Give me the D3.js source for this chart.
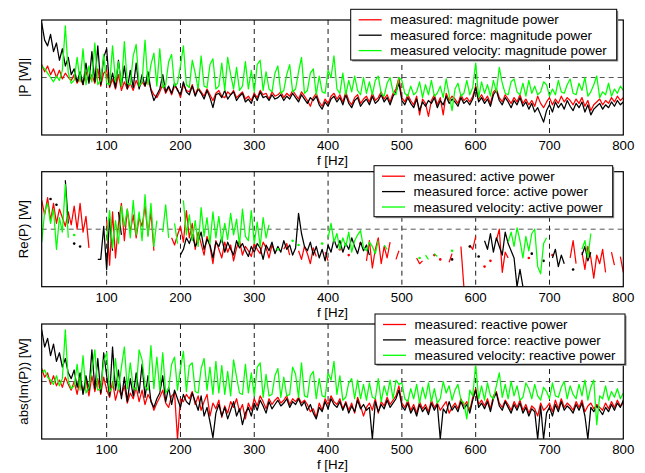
<!DOCTYPE html>
<html>
<head>
<meta charset="utf-8">
<script src="https://cdn.jsdelivr.net/npm/d3@7"></script>
<style>
  body { margin: 0; background: #fff; }
  svg { display: block; font-family: "Liberation Sans", Arial, Helvetica, sans-serif; }
</style>
</head>
<body>
<script>
// spectra sampled every 4 Hz from 12 Hz to 800 Hz, levels in dB (grid line at 0 dB)
const freqs = d3.range(12, 801, 4);
const xTicks = [100, 200, 300, 400, 500, 600, 700, 800];
const gridLevels = [0];

// |P|
const magRed = [
  9, 4, 8, 2, 6, 0, 5, -1, 3, 0,
  -2, 2, -4, 0, -5, 4, -3, 2, -4, 6,
  -6, 3, 5, -7, -1, -8, 2, -9, -3, -8,
  -4, -9, -2, -7, -3, -6, -1, -8, -12, -14,
  -10, -5, -11, -7, -12, -6, -8, -14, -5, -9,
  -10, -5, -12, -7, -10, -13, -8, -12, -16, -11,
  -9, -13, -14, -10, -12, -9, -14, -12, -10, -15,
  -13, -16, -11, -14, -9, -12, -11, -15, -10, -13,
  -12, -10, -14, -11, -13, -9, -12, -15, -10, -13,
  -16, -20, -14, -11, -17, -20, -15, -18, -13, -11,
  -15, -12, -17, -10, -16, -19, -14, -12, -18, -15,
  -13, -17, -11, -16, -14, -10, -15, -12, -17, -11,
  -8, 0, -14, -17, -12, -16, -19, -13, -26, -15,
  -18, -27, -16, -12, -19, -14, -26, -11, -16, -13,
  -15, -18, -12, -16, -14, -17, -13, -6, -15, -12,
  -16, -13, -18, -10, -8, -14, -17, -12, -15, -18,
  -14, -17, -12, -18, -15, -19, -16, -20, -13, -18,
  -21, -17, -14, -19, -15, -18, -13, -17, -14, -16,
  -19, -15, -18, -14, -20, -16, -23, -19, -17, -15,
  -19, -16, -18, -14, -17, -13, -16, -14
];
const magBlack = [
  38, 26, 22, 30, 18, 24, 12, 20, 8, 14,
  2, 6, -3, 4, -5, 10, -4, 18, -3, 22,
  -5, 14, 20, -6, 3, -7, 12, -6, 8, -8,
  5, -7, 10, -8, 2, -6, 4, -9, -16, -12,
  -8, 2, -10, -6, -11, -4, -9, -12, -3, -10,
  -12, -6, -13, -8, -11, -15, -9, -14, -21, -12,
  -11, -14, -9, -15, -12, -10, -16, -13, -11, -17,
  -15, -18, -12, -16, -10, -14, -13, -16, -12, -15,
  -14, -12, -16, -13, -15, -11, -14, -17, -12, -15,
  -18, -14, -16, -13, -19, -22, -17, -20, -15, -13,
  -17, -14, -19, -12, -18, -21, -16, -14, -20, -17,
  -15, -19, -13, -18, -16, -12, -17, -14, -19, -13,
  -10, -4, -16, -19, -14, -18, -21, -15, -23, -17,
  -20, -16, -18, -14, -21, -16, -19, -13, -18, -15,
  -17, -20, -14, -18, -16, -19, -15, -7, -17, -14,
  -18, -15, -20, -12, -9, -16, -19, -14, -17, -21,
  -16, -19, -14, -20, -17, -22, -18, -24, -21, -26,
  -31, -23, -19, -24, -17, -21, -18, -22, -16, -20,
  -23, -18, -21, -17, -24, -19, -26, -22, -20, -18,
  -22, -19, -21, -17, -20, -16, -19, -17
];
const magGreen = [
  8, 6, 3, 0, -3, 1, -2, 5, 36, 3,
  -4, -2, 14, -3, 20, -5, 8, -3, 24, -5,
  -2, 16, -4, -5, 22, -3, 11, -6, 25, -4,
  -5, 15, 23, -6, -3, 26, -5, 9, 17, -6,
  20, -7, -5, 11, 16, -6, -4, 8, 22, -5,
  -7, 12, 3, -8, 15, -6, -7, 9, 13, -8,
  -6, 10, -9, 14, 2, -8, 7, -9, -6, 11,
  -8, 5, -10, 9, 12, -9, 4, -8, -10, 3,
  8, -11, -9, 2, 9, -10, -8, 4, 14, -11,
  -9, 3, 6, -12, 1, -10, -11, 5, 0, 15,
  -8, -11, 3, -12, -2, -10, 1, -9, -12, 0,
  -11, -3, -12, -2, 1, -11, -13, -4, 0, -10,
  -12, 0, -2, -11, -13, -6, -12, -10, -3, -14,
  -5, -12, -2, -13, -11, -6, -14, -1, -12, -23,
  -8, -4, -13, -11, -2, -12, -7, 10, -14, -3,
  -11, -5, -13, -2, -10, 7, -4, -11, -12, -3,
  -1, -10, -12, -4, -13, -2, -11, -6, -12, -10,
  -3, -5, -13, -8, -12, -2, -10, -11, -5, -1,
  -11, -12, -4, -9, 0, -13, -10, -5, 1, -14,
  -10, -12, -4, -13, -8, -11, -6, -9
];

// Re(P): null where the active power is negative (not shown on the log axis)
const reRed = [
  20, 10, 22, 6, 18, 4, 14, 8, 2, 12,
  3, 16, 0, 18, -2, 9, -13, null, null, null,
  null, null, 6, -25, 12, -20, 4, 18, -8, 14,
  -2, 10, -6, 8, 2, 16, -4, 12, -15, null,
  null, null, null, null, -6, -11, -4, 2, -9, 13,
  -6, 4, -14, -2, -10, -18, -5, -12, -24, -8,
  -14, -20, -9, -16, -11, -22, -13, -8, -18, -12,
  -15, -19, -10, -14, -17, -9, -13, -20, -11, -16,
  null, null, -14, -10, -18, null, null, -15, -21, -12,
  -17, -24, -13, -19, null, null, -16, -22, null, null,
  null, -14, null, null, -18, null, null, null, -10, null,
  -22, -8, -27, -14, -6, -24, -12, -20, -9, null,
  -21, -15, null, null, null, null, null, -20, -24, -22,
  null, null, null, -18, null, -21, null, null, -23, -17,
  null, null, -12, -40, null, -11, -14, -5, null, null,
  -26, null, -22, null, -8, 0, -30, -16, -20, null,
  null, null, null, null, null, -20, null, null, null, null,
  null, null, null, -18, null, null, null, null, null, -20,
  -8, -24, null, -16, -28, -12, -20, -34, -18, -24,
  -14, -30, null, -16, -25, null, -19, -30
];
const reBlack = [
  null, null, null, 21, null, 17, null, null, 34, 4,
  null, -10, null, -12, null, null, null, null, null, -21,
  -21, 2, -28, 8, -15, null, 12, -4, null, null,
  null, null, null, null, null, null, null, null, null, null,
  null, null, null, null, null, null, null, -18, -14, -6,
  -10, -4, -12, -8, -2, -14, -7, -11, -20, -9,
  -12, -6, -16, -9, -14, -18, -8, -13, -10, -15,
  -19, -12, -16, -10, -13, -21, -11, -15, -9, -17,
  -12, -16, -8, -14, -11, -18, -13, 11, -3, -12,
  -15, -9, -18, -12, -20, -14, -22, -11, -16, -7,
  -13, -8, -16, -10, -14, -6, -12, -17, -9, -15,
  -11, -18, null, null, null, null, null, null, null, null,
  null, null, null, null, null, null, null, null, null, null,
  null, null, null, null, null, null, null, null, null, -21,
  null, null, null, null, null, -12, null, null, -19, null,
  -8, -14, -3, -16, -6, -12, -18, -2, -10, -15,
  -20, -40, -28, -40, null, null, -17, null, null, null,
  -22, null, null, -20, -14, -26, -18, -24, null, null,
  -28, null, null, -18, -12, -22, -16, null, null, null,
  null, null, null, null, null, null, null, null
];
const reGreen = [
  -9, 12, 18, 4, 14, -14, 8, -2, 31, -6,
  null, -4, null, null, null, null, null, null, null, null,
  null, null, -8, 13, -13, 6, -10, 16, 2, 14,
  -6, 20, -4, 12, -8, 24, -5, 18, -12, 6,
  null, -2, 17, -6, null, 4, -10, null, 20, -4,
  10, -8, 6, -12, 15, -5, 8, -10, 12, -6,
  9, -9, 4, -7, 11, -4, 7, -11, 14, -5,
  -8, 13, -10, 5, -12, 8, -6, 3, null, null,
  -14, null, null, null, null, -8, null, -11, null, null,
  null, null, null, null, null, -10, null, -6, 4, -9,
  -3, -14, -6, -12, -2, -16, -8, -4, -1, -13,
  -15, -9, -12, -17, -8, null, -11, -14, null, null,
  null, null, null, null, null, null, null, null, -20, null,
  -18, -21, null, -17, -19, null, null, null, null, -15,
  null, null, null, null, null, null, null, null, null, null,
  null, null, null, null, null, null, null, null, -9, -2,
  -12, 1, -8, -20, -5, -15, -3, 0, -26, -31,
  -10, -6, null, null, null, null, null, null, null, null,
  null, null, null, -14, -8, -20, -3, null, null, null,
  null, null, null, null, null, null, null, null
];

// |Im(P)|
const imRed = [
  9, 3, 6, -2, 4, -3, 1, -4, 3, -2,
  -6, 0, -9, 2, -8, 1, -10, 4, -7, 2,
  -9, 3, -6, -11, 0, -13, -5, -10, -3, -15,
  -8, -12, -4, -14, -6, -16, -9, -13, -20, -15,
  -11, -6, -15, -18, -10, -8, -40, -12, -14, -9,
  -12, -7, -16, -10, -20, -14, -9, -24, -15, -19,
  -13, -25, -17, -22, -14, -18, -12, -21, -16, -26,
  -15, -20, -12, -17, -10, -14, -19, -12, -16, -13,
  -11, -15, -13, -10, -16, -12, -14, -11, -15, -13,
  -16, -21, -19, -25, -15, -20, -12, -16, -10, -14,
  -16, -12, -19, -14, -20, -15, -22, -11, -17, -24,
  -18, -15, -20, -12, -22, -14, -17, -11, -16, -13,
  -10, -3, -15, -18, -13, -20, -16, -22, -14, -19,
  -16, -21, -13, -18, -15, -20, -17, -14, -22, -18,
  -15, -19, -12, -17, -14, -20, -11, -5, -16, -13,
  -17, -12, -19, -10, -7, -15, -18, -13, -16, -20,
  -14, -18, -13, -20, -16, -22, -17, -19, -24, -15,
  -20, -18, -15, -21, -13, -19, -12, -18, -15, -17,
  -20, -14, -18, -13, -21, -17, -15, -19, -16, -18,
  -20, -15, -19, -14, -18, -13, -17, -15
];
const imBlack = [
  36, 24, 30, 18, 26, 14, 20, 10, 16, 6,
  2, 8, -4, 6, -9, 4, -6, 22, -5, 16,
  -8, 20, 4, -10, 24, -6, 8, -12, 3, -14,
  2, -10, 6, -8, 12, -11, 4, -14, -18, -12,
  -8, 4, -14, -4, -16, -6, -12, -18, -9, -14,
  -16, -8, -14, -20, -10, -24, -18, -28, -39, -22,
  -16, -24, -18, -26, -20, -14, -24, -19, -30, -22,
  -18, -24, -15, -20, -13, -17, -22, -14, -19, -16,
  -13, -17, -15, -12, -18, -14, -16, -12, -17, -14,
  -20, -16, -22, -26, -18, -21, -14, -19, -12, -16,
  -18, -14, -20, -15, -22, -17, -21, -13, -19, -16,
  -20, -18, -40, -14, -21, -16, -19, -13, -18, -15,
  -12, -6, -17, -20, -15, -22, -18, -24, -16, -21,
  -18, -23, -15, -20, -16, -40, -19, -22, -14, -20,
  -17, -21, -14, -19, -16, -22, -13, -6, -18, -15,
  -19, -14, -21, -12, -8, -17, -20, -14, -18, -22,
  -16, -20, -15, -22, -18, -24, -19, -21, -40, -17,
  -40, -22, -18, -24, -16, -21, -14, -20, -17, -19,
  -22, -16, -20, -15, -24, -40, -18, -21, -17, -20,
  -23, -18, -21, -16, -20, -15, -18, -13
];
const imGreen = [
  6, 8, 3, 1, -2, 4, -3, 2, 36, 0,
  -5, -3, 12, -6, 18, -8, -4, 9, 22, -6,
  -5, 14, 20, -7, -4, 16, -6, 10, 24, -5,
  13, -4, -6, 22, 15, -3, -6, 25, -5, 17,
  -6, 20, -8, -5, 12, 17, -6, 9, 21, -7,
  11, 13, -7, -8, 9, 16, -6, 10, -9, 14,
  -8, 11, -9, 7, -10, 15, 3, -8, -9, 12,
  -8, 6, -10, 10, 13, -11, 5, -10, -9, 4,
  9, -11, 3, -10, -9, 10, 5, -11, 13, -10,
  -11, 4, 7, -12, 2, -10, -11, 6, 1, 14,
  -9, 4, -13, -11, -1, 2, -12, 1, -12, -2,
  -13, -1, -11, -12, 2, -14, -3, -10, 1, -12,
  1, -2, -1, -12, -14, -5, -12, -2, -15, -4,
  -12, -1, -14, -5, -15, -12, 0, -8, -3, -13,
  -6, -2, -13, -15, -26, -6, -10, 12, -12, -3,
  -13, -1, -10, -12, -3, 6, -11, -2, -12, 0,
  -10, -3, -13, -11, -1, -5, -12, -2, -10, -13,
  -4, -7, -12, -1, -10, -11, -4, 0, -12, -3,
  -9, -12, -2, -10, 1, -13, -4, 1, -30, -10,
  -12, -3, -13, -7, -11, -5, -12, -8
];

const colors = ["#ff0000", "#000000", "#00ff00"];

const panels = [
  { ylabel: "|P [W]|", series: [magRed, magBlack, magGreen],
    names: ["measured: magnitude power", "measured force: magnitude power", "measured velocity: magnitude power"],
    top: 20, legend: { x: 350.7, y: 9.3, w: 266, h: 50.7 } },
  { ylabel: "Re(P) [W]", series: [reRed, reBlack, reGreen],
    names: ["measured: active power", "measured force: active power", "measured velocity: active power"],
    top: 171.7, legend: { x: 374, y: 165.7, w: 238.7, h: 51 } },
  { ylabel: "abs(Im(P)) [W]", series: [imRed, imBlack, imGreen],
    names: ["measured: reactive power", "measured force: reactive power", "measured velocity: reactive power"],
    top: 324, legend: { x: 375, y: 314, w: 250, h: 50.3 } }
];

const width = 645, height = 473;
const left = 41.7, right = 623.3, plotH = 115;
const fontSize = 13.3;

const svg = d3.select("body").append("svg")
  .attr("width", width)
  .attr("height", height)
  .attr("viewBox", [0, 0, width, height]);

svg.append("rect").attr("width", width).attr("height", height).attr("fill", "#fff");

const x = d3.scaleLinear().domain([12, 800]).range([left, right]);

panels.forEach((p, pi) => {
  const y = d3.scaleLinear().domain([-40, 40]).range([p.top + plotH, p.top]);
  const g = svg.append("g");

  const clipId = "clip" + pi;
  g.append("clipPath").attr("id", clipId)
    .append("rect")
    .attr("x", left).attr("y", p.top)
    .attr("width", right - left).attr("height", plotH);

  // dashed grid
  g.append("g")
    .selectAll("line")
    .data(xTicks.filter(t => t < 800))
    .join("line")
      .attr("x1", d => x(d)).attr("x2", d => x(d))
      .attr("y1", p.top).attr("y2", p.top + plotH)
      .attr("stroke", "#000")
      .attr("stroke-width", 0.9)
      .attr("stroke-dasharray", "5,4");
  g.append("g")
    .selectAll("line")
    .data(gridLevels)
    .join("line")
      .attr("x1", left).attr("x2", right)
      .attr("y1", d => y(d)).attr("y2", d => y(d))
      .attr("stroke", "#444")
      .attr("stroke-width", 0.9)
      .attr("stroke-dasharray", "5,4");

  // traces
  const plot = g.append("g").attr("clip-path", `url(#${clipId})`);
  const line = d3.line()
    .defined(d => d[1] != null)
    .x(d => x(d[0]))
    .y(d => y(d[1]));

  p.series.forEach((s, si) => {
    const pts = freqs.map((f, i) => [f, s[i]]);
    plot.append("path")
      .datum(pts)
      .attr("fill", "none")
      .attr("stroke", colors[si])
      .attr("stroke-width", 1.25)
      .attr("stroke-linejoin", "round")
      .attr("d", line);
    // isolated samples show up as dots
    const lone = pts.filter((d, i) => d[1] != null &&
      (i === 0 || pts[i - 1][1] == null) &&
      (i === pts.length - 1 || pts[i + 1][1] == null));
    plot.selectAll(null)
      .data(lone)
      .join("circle")
        .attr("cx", d => x(d[0]))
        .attr("cy", d => y(d[1]))
        .attr("r", 1.3)
        .attr("fill", colors[si]);
  });

  // frame
  g.append("rect")
    .attr("x", left).attr("y", p.top)
    .attr("width", right - left).attr("height", plotH)
    .attr("fill", "none")
    .attr("stroke", "#000")
    .attr("stroke-width", 1.2);

  // x axis labels
  g.append("g")
    .selectAll("text")
    .data(xTicks)
    .join("text")
      .attr("x", d => x(d))
      .attr("y", p.top + plotH + 15)
      .attr("text-anchor", "middle")
      .attr("font-size", fontSize)
      .text(d => d);

  g.append("text")
    .attr("x", (left + right) / 2)
    .attr("y", p.top + plotH + 30)
    .attr("text-anchor", "middle")
    .attr("font-size", fontSize)
    .text("f [Hz]");

  g.append("text")
    .attr("transform", `translate(23.5,${p.top + plotH / 2}) rotate(-90)`)
    .attr("dy", "0.35em")
    .attr("text-anchor", "middle")
    .attr("font-size", fontSize)
    .text(p.ylabel);

  // legend
  const L = p.legend;
  const lg = g.append("g").attr("transform", `translate(${L.x},${L.y})`);
  lg.append("rect")
    .attr("x", 1.5).attr("y", 1.5)
    .attr("width", L.w).attr("height", L.h)
    .attr("fill", "#888");
  lg.append("rect")
    .attr("width", L.w).attr("height", L.h)
    .attr("fill", "#fff")
    .attr("stroke", "#000")
    .attr("stroke-width", 1);
  const rows = lg.selectAll("g.row")
    .data(p.names)
    .join("g")
      .attr("class", "row")
      .attr("transform", (d, i) => `translate(0,${10.5 + i * 15.4})`);
  rows.append("line")
    .attr("x1", 8).attr("x2", 31)
    .attr("stroke", (d, i) => colors[i])
    .attr("stroke-width", 1.3);
  rows.append("text")
    .attr("x", 39.5)
    .attr("dy", "0.35em")
    .attr("font-size", fontSize)
    .text(d => d);
});
</script>
</body>
</html>
